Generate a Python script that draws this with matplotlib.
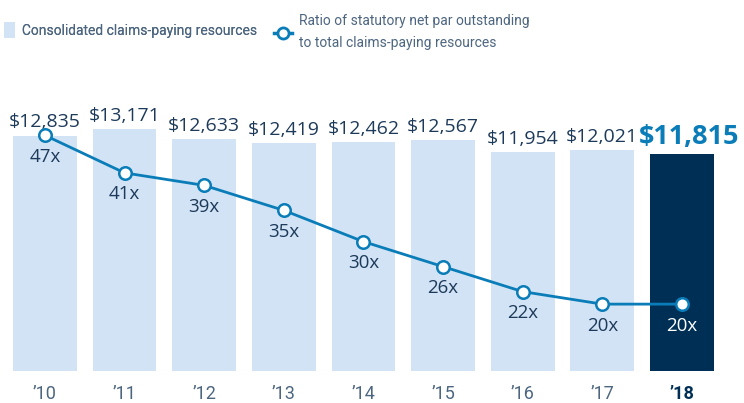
import matplotlib.pyplot as plt
from matplotlib.lines import Line2D
from matplotlib.patches import Patch
import numpy as np

# ---------------------------------------------------------------------------
# Datos
# ---------------------------------------------------------------------------

years     = ["’10", "’11", "’12", "’13", "’14", "’15", "’16", "’17", "’18"]
resources = [12835, 13171, 12633, 12419, 12462, 12567, 11954, 12021, 11815]
ratio     = [47, 41, 39, 35, 30, 26, 22, 20, 20]

LIGHT  = "#d1e3f4"
DARK   = "#002f56"
LINE   = "#0a7db8"
TEXT   = "#1d3a5a"
GREY   = "#4d6680"

NARROW = ["Roboto", "DejaVu Sans"]
plt.rcParams["font.family"] = ["Open Sans", "DejaVu Sans"]

fig = plt.figure(figsize=(7.44, 4.03), dpi=100)
ax = fig.add_axes([0, 1 - 371 / 403, 1, 271 / 403])
ax2 = ax.twinx()

x = np.arange(len(years))
colors = [LIGHT] * (len(years) - 1) + [DARK]
ax.bar(x, resources, width=0.80, color=colors, zorder=1)

ax.set_xlim(-0.565, 8.78)
ax.set_ylim(0, 14770)
ax2.set_ylim(9.3, 52.66)

# etiquetas de valor
for i, v in enumerate(resources):
    last = i == len(resources) - 1
    ax.annotate(f"${v:,}", (x[i], v), xytext=(5 if last else 0, 3), textcoords="offset points",
                ha="center", va="bottom",
                fontsize=19.5 if last else 14,
                fontweight="bold" if last else "normal",
                color=LINE if last else TEXT)

# línea de ratio
ax2.plot(x, ratio, color=LINE, linewidth=2.0, marker="o", markersize=9,
         markerfacecolor="white", markeredgecolor=LINE, markeredgewidth=1.8, zorder=3)
for i, r in enumerate(ratio):
    last = i == len(ratio) - 1
    ax2.annotate(f"{r}x", (x[i], r), xytext=(0, -9), textcoords="offset points",
                 ha="center", va="top", fontsize=13.5,
                 color="white" if last else TEXT)

for a in (ax, ax2):
    for sp in a.spines.values():
        sp.set_visible(False)
    a.set_yticks([])
    a.patch.set_visible(False)

ax.set_xticks(x)
ax.set_xticklabels(years, family=NARROW)
ax.tick_params(axis="x", length=0, pad=10, labelsize=13, labelcolor=GREY)
lbl = ax.get_xticklabels()[-1]
lbl.set_fontweight("bold")
lbl.set_color(DARK)

# leyenda
leg1 = fig.legend([Patch(facecolor=LIGHT, edgecolor="none")],
                  ["Consolidated claims-paying resources"],
                  loc="center left", bbox_to_anchor=(0.0, 1 - 30 / 403),
                  frameon=False, labelcolor=GREY, handlelength=0.8, handleheight=1.4,
                  handletextpad=0.5, borderaxespad=0, borderpad=0.3,
                  prop={"family": NARROW, "size": 10})
fig.add_artist(leg1)
leg2 = fig.legend([Line2D([0], [0], color=LINE, linewidth=2.5, marker="o", markersize=8,
                          markerfacecolor="white", markeredgecolor=LINE, markeredgewidth=2)],
                  ["Ratio of statutory net par outstanding\nto total claims-paying resources"],
                  loc="center left", bbox_to_anchor=(270 / 744, 1 - 32 / 403),
                  frameon=False, labelcolor=GREY, handlelength=1.3,
                  handletextpad=0.5, borderaxespad=0, borderpad=0.3,
                  prop={"family": NARROW, "size": 10})
for t in leg2.get_texts():
    t.set_linespacing(1.7)

fig.savefig("out.png", dpi=100)
